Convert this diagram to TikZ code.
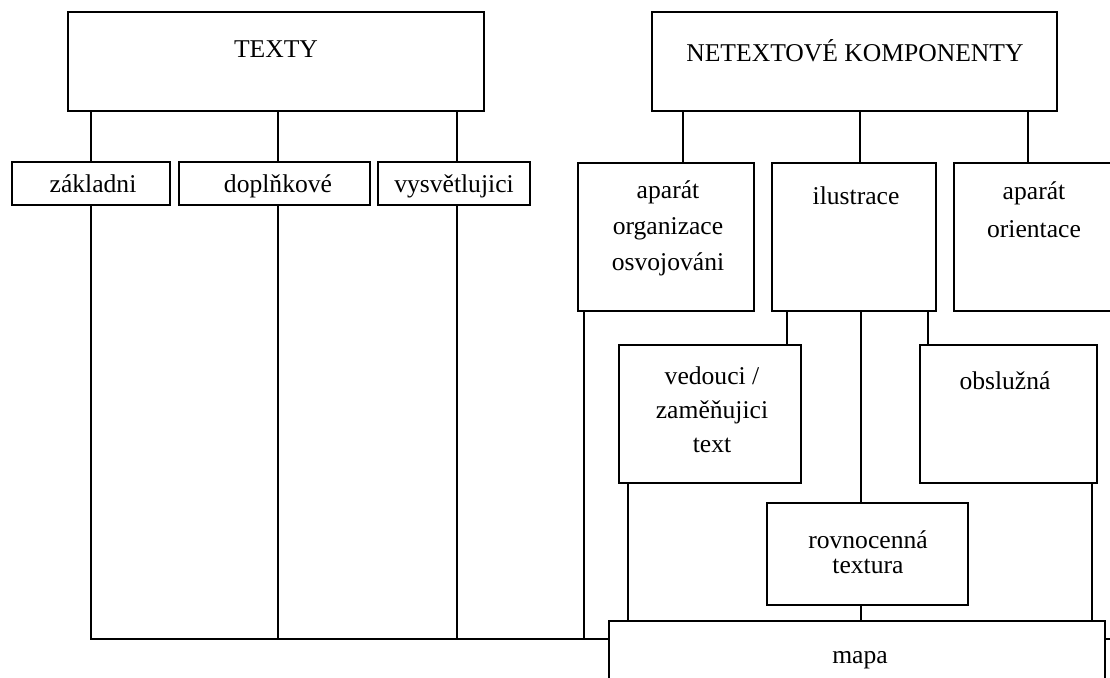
\documentclass[tikz,border=0pt]{standalone}
\usepackage{fontspec}
\setmainfont{Liberation Serif}
\usetikzlibrary{fit}

\begin{document}
\begin{tikzpicture}[x=0.5pt,y=-0.5pt,
		box/.style={draw, line width=0.8pt, inner sep=0pt},
		txt/.style={anchor=base, align=center, inner sep=0pt, font=\fontsize{12.8}{18}\selectfont},
		link/.style={line width=0.8pt}]
		\clip (0,0) rectangle (1110,677);
		% top row
		\node[box, fit={(68,12) (484,111)}] (texty) {};
		\node[box, fit={(652,12) (1057,111)}] (netext) {};
		\node[txt] (textyL) at (276,57) {TEXTY};
		\node[txt] (netextL) at (855,61) {NETEXTOVÉ KOMPONENTY};
		% texty
		\node[box, fit={(12,162) (170,205)}] (zakl) {};
		\node[box, fit={(179,162) (370,205)}] (dopl) {};
		\node[box, fit={(378,162) (530,205)}] (vysv) {};
		\node[txt] (zaklL) at (93,192) {základni};
		\node[txt] (doplL) at (278,192) {doplňkové};
		\node[txt] (vysvL) at (454,192) {vysvětlujici};
		% netextove komponenty (base = last line)
		\node[box, fit={(578,163) (754,311)}] (apor) {};
		\node[box, fit={(772,163) (936,311)}] (ilus) {};
		\node[box, fit={(954,163) (1115,311)}] (apori) {};
		\node[txt] (aporL) at (668,270) {aparát\\organizace\\osvojováni};
		\node[txt] (ilusL) at (856,204) {ilustrace};
		\node[txt, font=\fontsize{12.8}{19}\selectfont] (aporiL) at (1034,237) {aparát\\orientace};
		% ilustrace
		\node[box, fit={(619,345) (801,483)}] (vedo) {};
		\node[box, fit={(920,345) (1097,483)}] (obsl) {};
		\node[box, fit={(767,503) (968,605)}] (rovn) {};
		\node[box, fit={(609,621) (1105,700)}] (mapa) {};
		\node[txt, font=\fontsize{12.8}{17}\selectfont] (vedoL) at (712,452) {vedouci /\\zaměňujici\\text};
		\node[txt] (obslL) at (1005,389) {obslužná};
		\node[txt, font=\fontsize{12.8}{12.5}\selectfont] (rovnL) at (868,573) {rovnocenná\\ textura};
		\node[txt] (mapaL) at (860,663) {mapa};
		\coordinate (bus) at (91,639);
		\coordinate (busR) at (1115,639);
		% links
		\draw[link] (zakl.north |- texty.south) -- (zakl.north);
		\draw[link] ([xshift=1.75pt]dopl.north |- texty.south) -- ([xshift=1.75pt]dopl.north);
		\draw[link] ([xshift=1.5pt]vysv.north |- texty.south) -- ([xshift=1.5pt]vysv.north);
		\draw[link] (zakl.south) |- (mapa.north west |- bus);
		\draw[link] ([xshift=1.75pt]dopl.south) -- ([xshift=1.75pt]dopl.south |- bus);
		\draw[link] ([xshift=1.5pt]vysv.south) -- ([xshift=1.5pt]vysv.south |- bus);
		\draw[link] ([xshift=3.5pt]apor.south west) -- ([xshift=3.5pt]apor.south west |- bus);
		\draw[link] ([xshift=8.5pt]apor.north |- netext.south) -- ([xshift=8.5pt]apor.north);
		\draw[link] ([xshift=3pt]ilus.north |- netext.south) -- ([xshift=3pt]ilus.north);
		\draw[link] ([xshift=-3.25pt]apori.north |- netext.south) -- ([xshift=-3.25pt]apori.north);
		\draw[link] ([xshift=-7.5pt]vedo.north east |- ilus.south) -- ([xshift=-7.5pt]vedo.north east);
		\draw[link] ([xshift=-3.25pt]rovn.north |- ilus.south) -- ([xshift=-3.25pt]rovn.north);
		\draw[link] ([xshift=4.5pt]obsl.north west |- ilus.south) -- ([xshift=4.5pt]obsl.north west);
		\draw[link] ([xshift=5pt]vedo.south west) -- ([xshift=5pt]vedo.south west |- mapa.north);
		\draw[link] ([xshift=-3.25pt]rovn.south) -- ([xshift=-3.25pt]rovn.south |- mapa.north);
		\draw[link] ([xshift=-3pt]obsl.south east) -- ([xshift=-3pt]obsl.south east |- mapa.north);
		\draw[link] (mapa.north east |- bus) -- (busR);
	\end{tikzpicture}
\end{document}
